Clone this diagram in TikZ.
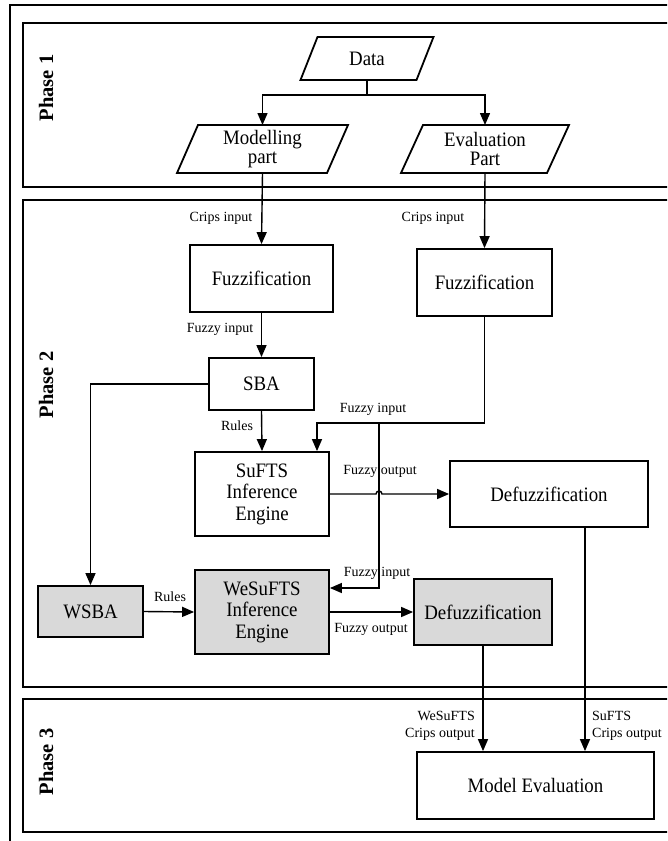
\documentclass[tikz,border=0pt]{standalone}
\usepackage{fontspec}
\setmainfont{Liberation Serif}
\newfontfamily\boxfont[FakeStretch=0.92]{Liberation Serif}
\usetikzlibrary{arrows.meta}
\definecolor{shade}{RGB}{217,217,217}
\begin{document}
\begin{tikzpicture}[x=1pt,y=-1pt,
  frame/.style={draw, line width=2pt},
  box/.style={draw, line width=1.8pt, inner sep=0pt, align=center, font=\boxfont\fontsize{20.5}{21.5}\selectfont},
  gbox/.style={box, fill=shade},
  pg/.style={inner sep=0pt, outer sep=0pt, align=center, font=\boxfont\fontsize{20.5}{18.5}\selectfont},
  pgline/.style={line width=1.8pt, line join=miter},
  lab/.style={inner sep=0pt, font=\fontsize{14}{17}\selectfont},
  phase/.style={inner sep=0pt, rotate=90, font=\fontsize{20.5}{24}\selectfont\bfseries},
  conn/.style={line width=1.4pt},
  arr/.style={conn, -{Triangle[length=12pt,width=10pt]}}
]
\useasboundingbox (0,0) rectangle (667,841);
\clip (0,0) rectangle (667,841);
\fill[white] (0,0) rectangle (667,841);

% frames
\draw[frame] (10,5) rectangle (720,880);
\draw[frame] (23,23) rectangle (720,187);
\draw[frame] (23,200) rectangle (720,687);
\draw[frame] (23,699) rectangle (720,832);

\node[phase] (p1) at (46,88) {Phase 1};
\node[phase] (p2) at (46,385) {Phase 2};
\node[phase] (p3) at (46,762) {Phase 3};

% Phase 1 parallelograms
\node[pg, minimum width=116pt, minimum height=43pt] (data) at (367,58.5) {Data};
\draw[pgline] ([xshift=8.5pt]data.north west) -- ([xshift=8.5pt]data.north east) -- ([xshift=-8.5pt]data.south east) -- ([xshift=-8.5pt]data.south west) -- cycle;
\node[pg, minimum width=150pt, minimum height=48pt] (model) at (262.5,149) {Modelling\\part};
\draw[pgline] ([xshift=10.5pt]model.north west) -- ([xshift=10.5pt]model.north east) -- ([xshift=-10.5pt]model.south east) -- ([xshift=-10.5pt]model.south west) -- cycle;
\node[pg, minimum width=146pt, minimum height=48pt] (eval) at (485,149) {Evaluation\\Part};
\draw[pgline] ([xshift=11pt]eval.north west) -- ([xshift=11pt]eval.north east) -- ([xshift=-11pt]eval.south east) -- ([xshift=-11pt]eval.south west) -- cycle;

% Phase 2 boxes
\node[box, minimum width=143pt, minimum height=67pt] (fz1) at (261.5,278.5) {Fuzzification};
\node[box, minimum width=135pt, minimum height=67pt] (fz2) at (484.5,282.5) {Fuzzification};
\node[box, minimum width=105pt, minimum height=52pt] (sba) at (261.5,384) {SBA};
\node[box, minimum width=134pt, minimum height=84pt] (sufts) at (262,494) {SuFTS\\Inference\\Engine};
\node[box, minimum width=198pt, minimum height=66pt] (df1) at (549,494) {Defuzzification};
\node[gbox, minimum width=105pt, minimum height=51pt] (wsba) at (90.5,611.5) {WSBA};
\node[gbox, minimum width=134pt, minimum height=84pt] (wes) at (262,612) {WeSuFTS\\Inference\\Engine};
\node[gbox, minimum width=138pt, minimum height=66pt] (df2) at (483,612) {Defuzzification};

% Phase 3
\node[box, minimum width=237pt, minimum height=67pt] (me) at (535.5,785.5) {Model Evaluation};

% connectors phase 1
\draw[conn] (data.south) -- ++(0,15) coordinate (dj);
\draw[arr] (dj) -| (model.north);
\draw[arr] (dj) -| (eval.north);

% phase 2
\draw[arr] (model.south) -- (fz1.north);
\draw[arr] (eval.south) -- (fz2.north);
\draw[arr] (fz1.south) -- (sba.north);
\draw[arr] (sba.south) -- (sufts.north);
\draw[arr] (sba.west) -| (wsba.north);
\coordinate (j1) at (379,423);
\draw[arr] (fz2.south) |- (j1) -| ([xshift=55pt]sufts.north);
\draw[arr] (j1) |- ([yshift=24pt]wes.east);
\draw[arr] (sufts.east) -- (376,494) arc[start angle=180, end angle=360, radius=3] -- (df1.west);
\draw[arr] (wsba.east) -- (wes.west);
\draw[arr] (wes.east) -- (df2.west);

% phase 3
\coordinate (d1out) at (585,527);
\draw[arr] (d1out) -- (d1out |- me.north);
\draw[arr] (df2.south) -- (df2.south |- me.north);

% labels
\node[lab] (l1) at (221,218) {Crips input};
\node[lab] (l2) at (433,218) {Crips input};
\node[lab] (l3) at (220,329) {Fuzzy input};
\node[lab] (l4) at (237,426) {Rules};
\node[lab] (l5) at (373,409) {Fuzzy input};
\node[lab] (l6) at (380,471) {Fuzzy output};
\node[lab] (l7) at (377,573) {Fuzzy input};
\node[lab] (l8) at (170,597) {Rules};
\node[lab] (l9) at (371,629) {Fuzzy output};
\node[lab, anchor=east, align=right] (l10) at (475,726) {WeSuFTS\\Crips output};
\node[lab, anchor=west, align=left] (l11) at (592,726) {SuFTS\\Crips output};
\end{tikzpicture}
\end{document}
